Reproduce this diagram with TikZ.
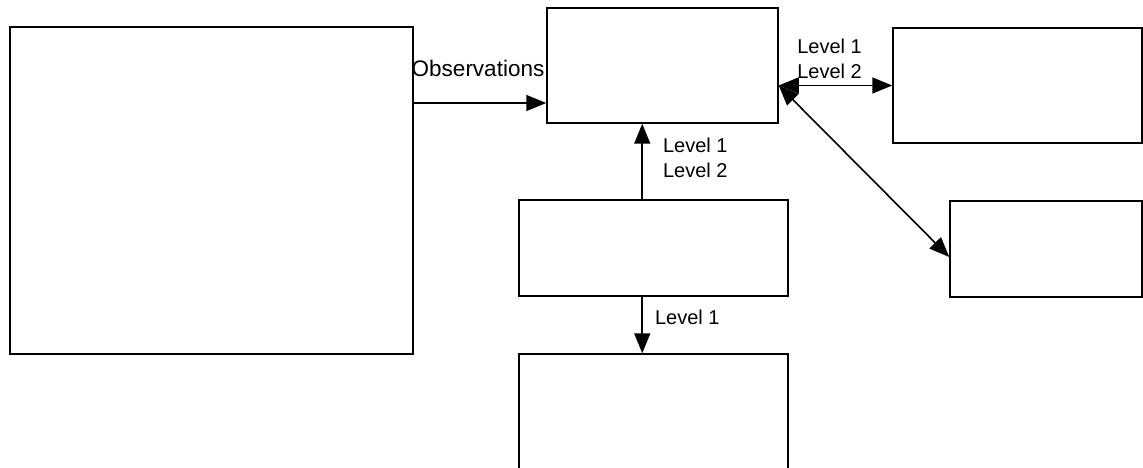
\documentclass[tikz,border=0pt]{standalone}
\usepackage{fontspec}
\setmainfont{Liberation Sans}
\usepackage{tikz}
\usetikzlibrary{arrows.meta, positioning, calc}

\begin{document}
\begin{tikzpicture}[
        x=1pt, y=-1pt,
        block/.style={rectangle, draw=black, line width=1.5pt, fill=white, inner sep=0pt},
        arr/.style={-{Triangle[length=20pt, width=16pt]}, line width=1.6pt},
        dbl/.style={{Triangle[length=20pt, width=16pt]}-{Triangle[length=20pt, width=16pt]}, line width=1.6pt},
        lbl/.style={inner sep=0pt, font=\fontsize{20}{25}\selectfont}
    ]
        \clip (0,0) rectangle (1143,468);

        \node[block, minimum width=403pt, minimum height=327pt] (obs) at (211.5,190.5) {};
        \node[block, minimum width=231pt, minimum height=115pt] (ctrl) at (662.5,65.5) {};
        \node[block, minimum width=249pt, minimum height=115pt] (topright) at (1017.5,85.5) {};
        \node[block, minimum width=192pt, minimum height=96pt] (lowright) at (1046,249) {};
        \node[block, minimum width=269pt, minimum height=96pt] (mid) at (653.5,248) {};
        \node[block, minimum width=269pt, minimum height=140pt] (bottom) at (653.5,424) {};

        \coordinate (obsin) at ($(ctrl.west)+(0,37.5)$);
        \coordinate (hub) at (ctrl.east |- topright.west);
        \coordinate (lowin) at ($(lowright.west)+(0,8)$);
        \coordinate (midup) at ($(mid.north west)+(124,0)$);
        \coordinate (middown) at ($(mid.south west)+(124,0)$);

        \draw[arr] (obs.east |- obsin) -- node[lbl, above=25pt, xshift=-2pt, font=\fontsize{22.5}{27}\selectfont] {Observations} (obsin);
        \draw[arr] (midup) -- node[lbl, right=20pt, yshift=4pt, align=left] {Level 1\\Level 2} (midup |- ctrl.south);
        \draw[arr] (middown) -- node[lbl, right=12pt, yshift=8pt] {Level 1} (middown |- bottom.north);
        \draw[dbl] (hub) -- node[lbl, above=6pt, xshift=-6pt, align=center] {Level 1\\Level 2} (topright.west);
        \draw[dbl] (hub) -- (lowin);
    \end{tikzpicture}
\end{document}
